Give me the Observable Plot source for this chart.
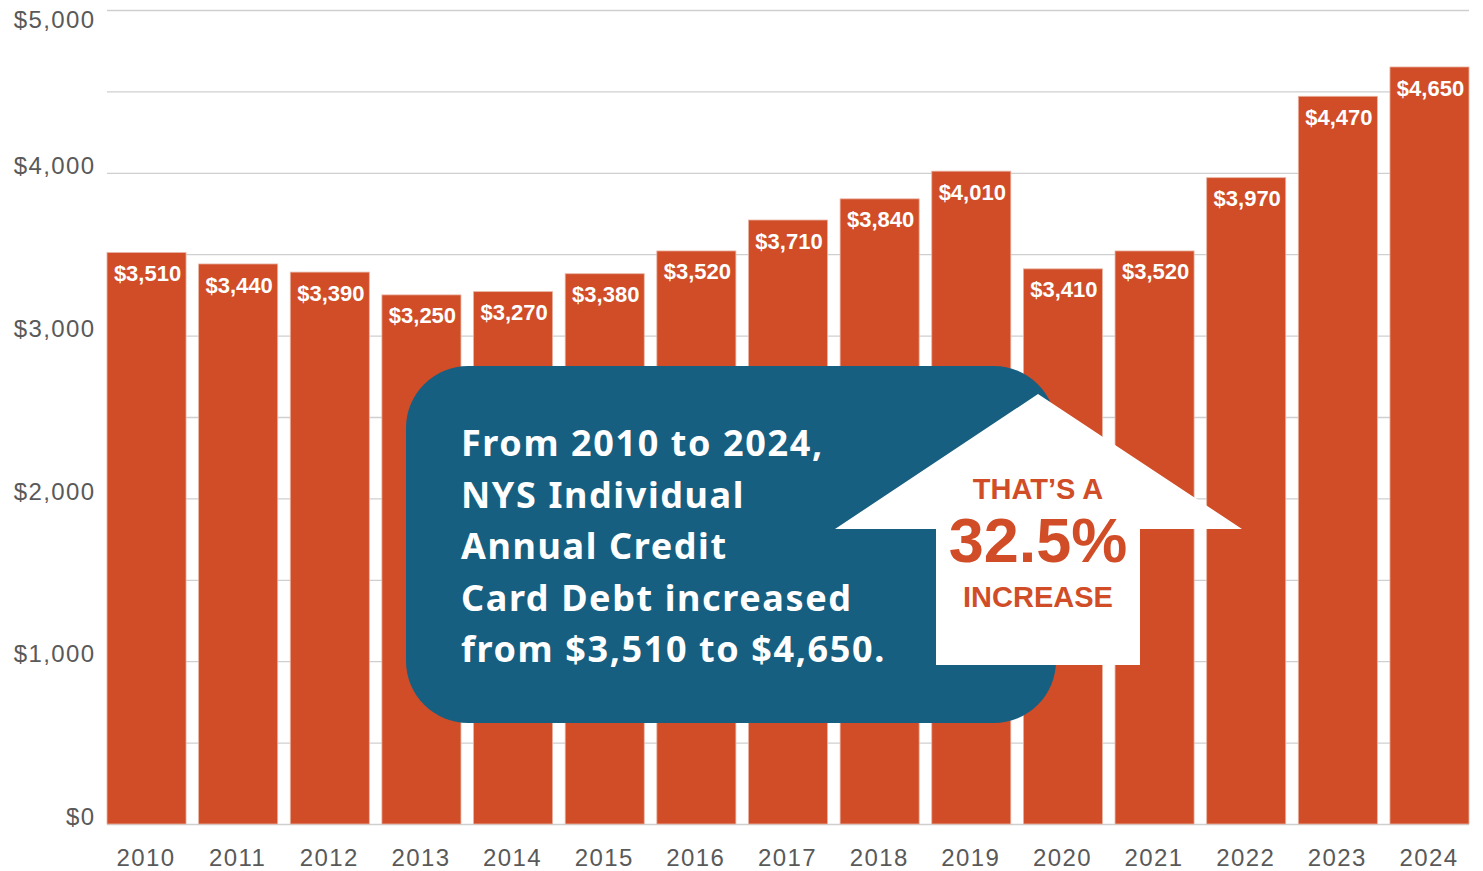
<!DOCTYPE html>
<html>
<head>
<meta charset="utf-8">
<script src="https://cdn.jsdelivr.net/npm/d3@7"></script>
<script src="https://cdn.jsdelivr.net/npm/@observablehq/plot@0.6"></script>
<style>
  html, body { margin: 0; padding: 0; background: #fff; }
  #chart { width: 1483px; height: 871px; overflow: hidden; }
</style>
</head>
<body>
<div id="chart"></div>
<script>
const years = ["2010","2011","2012","2013","2014","2015","2016","2017","2018","2019","2020","2021","2022","2023","2024"];
const debt = [3510, 3440, 3390, 3250, 3270, 3380, 3520, 3710, 3840, 4010, 3410, 3520, 3970, 4470, 4650];
const yTicksMain = [0, 1000, 2000, 3000, 4000];
const yTickTop = [5000];
const gridValues = [0, 500, 1000, 1500, 2000, 2500, 3000, 3500, 4000, 4500, 5000];
const noteLines = ["From 2010 to 2024,", "NYS Individual", "Annual Credit", "Card Debt increased", "from $3,510 to $4,650."];
const arrowLines = ["THAT’S A", "32.5%", "INCREASE"];

const data = years.map((year, i) => ({year, value: debt[i]}));
const fmt = d3.format("$,");
const orange = "#D04D28";
const blue = "#175F80";
const sans = "'Liberation Sans', Arial, sans-serif";

const plot = Plot.plot({
  width: 1483,
  height: 871,
  marginLeft: 107,
  marginRight: 14,
  marginTop: 10,
  marginBottom: 47,
  style: {fontFamily: sans, background: "#fff"},
  x: {domain: years, paddingInner: 0.1375, paddingOuter: 0, round: false, label: null},
  y: {domain: [0, 5000], label: null},
  marks: [
    Plot.gridY(gridValues, {stroke: "#cfcfcf", strokeOpacity: 1, strokeWidth: 1.3}),
    Plot.barY(data, {x: "year", y: "value", fill: orange, stroke: "#e9b3a2", strokeWidth: 0.8}),
    Plot.text(data, {x: "year", y: "value", text: d => fmt(d.value), fill: "white", fontWeight: "bold",
      fontSize: 22, dy: 21, dx: 0.5, fontFamily: sans, letterSpacing: 1}),
    Plot.axisY(yTicksMain, {tickSize: 0, tickPadding: 12, tickFormat: fmt, fontSize: 24, fill: "#595959", dy: -7}),
    Plot.axisY(yTickTop, {tickSize: 0, tickPadding: 12, tickFormat: fmt, fontSize: 24, fill: "#595959", dy: 10}),
    Plot.axisX({tickSize: 0, tickPadding: 24, fontSize: 24, fill: "#595959", dx: -1})
  ]
});

document.getElementById("chart").appendChild(plot);

// letter spacing for axis labels
d3.select(plot).selectAll("g[aria-label='y-axis tick label'] text, g[aria-label='x-axis tick label'] text")
  .attr("letter-spacing", 1.4);

// Annotation overlay (decoration)
const svg = d3.select(plot);
const g = svg.append("g");
g.append("rect")
  .attr("x", 406).attr("y", 366).attr("width", 650).attr("height", 357)
  .attr("rx", 62).attr("ry", 62).attr("fill", blue);

const noteText = g.append("text")
  .attr("fill", "white")
  .attr("text-anchor", "start")
  .attr("font-family", "'Noto Sans', 'Open Sans', sans-serif")
  .attr("font-weight", "bold")
  .attr("font-size", 36)
  .attr("letter-spacing", 1.6);
noteLines.forEach((t, i) => {
  noteText.append("tspan").attr("x", 461).attr("y", 456 + i * 51.5).text(t);
});

g.append("polygon")
  .attr("points", [[1038,394],[1242,529],[1140,529],[1140,665],[936,665],[936,529],[835,529]].map(p => p.join(",")).join(" "))
  .attr("fill", "white");

g.append("text").attr("x", 1038).attr("y", 499).attr("text-anchor", "middle")
  .attr("font-family", sans).attr("font-weight", "bold").attr("font-size", 29).attr("fill", orange).text(arrowLines[0]);
g.append("text").attr("x", 1038).attr("y", 562).attr("text-anchor", "middle")
  .attr("font-family", sans).attr("font-weight", "bold").attr("font-size", 63).attr("fill", orange).text(arrowLines[1]);
g.append("text").attr("x", 1038).attr("y", 607).attr("text-anchor", "middle")
  .attr("font-family", sans).attr("font-weight", "bold").attr("font-size", 29).attr("fill", orange).text(arrowLines[2]);
</script>
</body>
</html>
